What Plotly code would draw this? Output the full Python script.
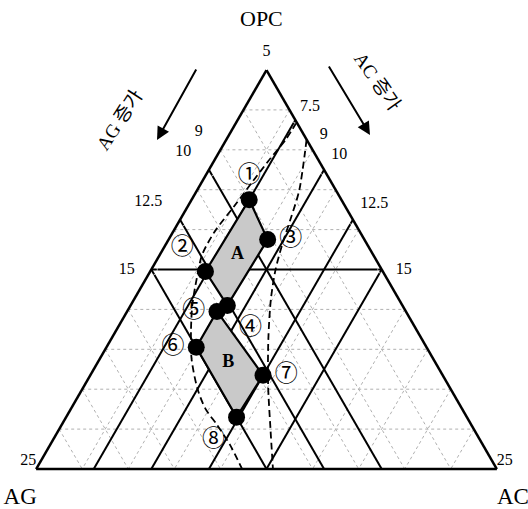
import plotly.graph_objects as go

# Trial mixes (percent of OPC / AG / AC)
point_ids = ["①", "②", "③", "④", "⑤", "⑥", "⑦", "⑧"]
opc = [67.5, 49.5, 57.5, 41.0, 39.5, 30.5, 23.5, 13.0]
ag = [20.0, 38.5, 21.0, 38.0, 41.0, 50.0, 39.0, 50.0]
ac = [12.5, 12.0, 21.5, 21.0, 19.5, 19.5, 37.5, 37.0]

# Corner points of the two zones, in order round the outline
zone_a = ["①", "③", "④", "②"]
zone_b = ["⑤", "⑦", "⑧", "⑥"]

# Edge scale 5-25 read along both sides
scale_lo, scale_hi = 5, 25
left_scale = [9, 10, 12.5, 15, 25]
right_scale = [7.5, 9, 10, 12.5, 15, 25]
apex_scale = 5

# Heavy guide lines (percent of each component)
guide_opc = [50]
guide_ag = [25, 37.5, 50]
guide_ac = [12.5, 25, 37.5, 50]
# Fine dotted grid
fine_grid = [10, 20, 30, 40, 50, 60, 70, 80, 90]

# Dashed boundary curves (OPC / AG / AC %)
curve1_opc = [86.9, 82.7, 77.2, 72.2, 66.1, 59.4, 53.7, 47.5, 41.3, 35.1, 27.6, 20.2, 15.2, 11.0, 6.1, 0.0]
curve1_ag = [0.0, 4.5, 11.0, 16.8, 23.9, 31.7, 37.2, 41.5, 45.5, 48.9, 52.4, 54.9, 55.7, 55.2, 54.9, 55.3]
curve1_ac = [13.1, 12.9, 11.8, 11.0, 10.1, 9.0, 9.2, 11.1, 13.3, 16.1, 19.9, 24.9, 29.1, 33.8, 39.0, 44.7]

curve2_opc = [82.6, 69.8, 63.1, 56.6, 49.9, 42.5, 32.6, 20.9, 10.3, 0.0]
curve2_ag = [0.0, 8.0, 13.1, 18.2, 23.1, 27.8, 33.3, 39.2, 44.0, 48.6]
curve2_ac = [17.4, 22.2, 23.8, 25.2, 27.0, 29.7, 34.1, 39.9, 45.7, 51.4]

# Text placement styles
point_label_side = ["top center", "top left", "middle right", "bottom right",
                    "middle left", "middle left", "middle right", "bottom left"]
left_label_side = ["top left", "top left", "top left", "middle left", "top left"]
left_label_gap = [14, 14, 14, 12, 0]          # invisible spacer marker sizes
left_label_pad = ["\u2002", "\u2002", "\u2002", "\u2002", ""]
right_label_side = ["top right", "top right", "top right", "top right", "middle right", "top right"]
right_label_gap = [6, 10, 10, 10, 8, 0]
right_label_pad = ["", "", "", "", "\u2002", ""]

SERIF = "Liberation Serif, Times New Roman, serif"
KOREAN = "Liberation Serif, Noto Sans CJK KR, sans-serif"
CLEAR = "rgba(0,0,0,0)"


def iso_lines(const_opc, const_ag, const_ac):
    """Segments of constant composition, edge to edge, joined with gaps."""
    A, B, C = [], [], []
    for v in const_opc:
        A += [v, v, None]; B += [100 - v, 0, None]; C += [0, 100 - v, None]
    for v in const_ag:
        A += [100 - v, 0, None]; B += [v, v, None]; C += [0, 100 - v, None]
    for v in const_ac:
        A += [100 - v, 0, None]; B += [0, 100 - v, None]; C += [v, v, None]
    return A, B, C


def to_pct(v):
    return (v - scale_lo) / (scale_hi - scale_lo) * 100


fig = go.Figure()

# fine dotted grid
ga, gb, gc = iso_lines(fine_grid, fine_grid, fine_grid)
fig.add_trace(go.Scatterternary(a=ga, b=gb, c=gc, mode="lines",
                                line=dict(color="#b0b0b0", width=1, dash="dot"),
                                hoverinfo="skip"))

# heavy guide lines
ha, hb, hc = iso_lines(guide_opc, guide_ag, guide_ac)
fig.add_trace(go.Scatterternary(a=ha, b=hb, c=hc, mode="lines",
                                line=dict(color="black", width=2),
                                hoverinfo="skip"))

# shaded zones A and B
idx = {p: i for i, p in enumerate(point_ids)}
for zone, name in ((zone_a, "A"), (zone_b, "B")):
    ids = zone + zone[:1]
    za = [opc[idx[p]] for p in ids]
    zb = [ag[idx[p]] for p in ids]
    zc = [ac[idx[p]] for p in ids]
    fig.add_trace(go.Scatterternary(a=za, b=zb, c=zc, mode="lines", fill="toself",
                                    fillcolor="#c9c9c9",
                                    line=dict(color="black", width=2.2),
                                    hoverinfo="skip"))
    n = len(zone)
    fig.add_trace(go.Scatterternary(
        a=[sum(za[:n]) / n], b=[sum(zb[:n]) / n], c=[sum(zc[:n]) / n],
        mode="text", text=[f"<b>{name}</b>"],
        textfont=dict(family=SERIF, size=18, color="black"),
        hoverinfo="skip"))

# dashed boundary curves
for ca, cb, cc in ((curve1_opc, curve1_ag, curve1_ac), (curve2_opc, curve2_ag, curve2_ac)):
    fig.add_trace(go.Scatterternary(a=ca, b=cb, c=cc, mode="lines",
                                    line=dict(color="black", width=1.8, dash="7px,4px",
                                              shape="spline", smoothing=0.8),
                                    hoverinfo="skip"))

# trial points with circled numbers
fig.add_trace(go.Scatterternary(a=opc, b=ag, c=ac, mode="markers+text",
                                marker=dict(color="black", size=17),
                                text=point_ids, textposition=point_label_side,
                                textfont=dict(family="Noto Sans CJK KR", size=23, color="black"),
                                cliponaxis=False, hoverinfo="skip"))

# edge scale values along the left (OPC-AG) and right (OPC-AC) sides
left_a = [100 - to_pct(v) for v in left_scale]
fig.add_trace(go.Scatterternary(a=left_a, b=[100 - a for a in left_a], c=[0] * len(left_a),
                                mode="markers+text",
                                marker=dict(size=left_label_gap, color=CLEAR),
                                text=[f"{v:g}{p}" for v, p in zip(left_scale, left_label_pad)],
                                textposition=left_label_side,
                                textfont=dict(family=SERIF, size=16, color="black"),
                                cliponaxis=False, hoverinfo="skip"))
right_c = [to_pct(v) for v in right_scale]
fig.add_trace(go.Scatterternary(a=[100 - c for c in right_c], b=[0] * len(right_c), c=right_c,
                                mode="markers+text",
                                marker=dict(size=right_label_gap, color=CLEAR),
                                text=[f"{p}{v:g}" for v, p in zip(right_scale, right_label_pad)],
                                textposition=right_label_side,
                                textfont=dict(family=SERIF, size=16, color="black"),
                                cliponaxis=False, hoverinfo="skip"))
fig.add_trace(go.Scatterternary(a=[100], b=[0], c=[0], mode="markers+text",
                                marker=dict(size=14, color=CLEAR),
                                text=[f"{apex_scale:g}"], textposition="top center",
                                textfont=dict(family=SERIF, size=16, color="black"),
                                cliponaxis=False, hoverinfo="skip"))

axis_common = dict(showgrid=False, showticklabels=False, linecolor="black", linewidth=2.5)

fig.update_layout(
    width=528, height=509,
    margin=dict(l=36, r=31, t=70, b=40),
    paper_bgcolor="white",
    showlegend=False,
    ternary=dict(
        sum=100,
        bgcolor="white",
        aaxis=dict(title=dict(text=""), ticks="", **axis_common),
        baxis=dict(title=dict(text="AG", font=dict(family=SERIF, size=23, color="black")),
                   tickmode="array", tickvals=[50],
                   ticks="outside", ticklen=13, tickcolor=CLEAR,
                   **axis_common),
        caxis=dict(title=dict(text="AC", font=dict(family=SERIF, size=23, color="black")),
                   ticks="", **axis_common),
    ),
    annotations=[
        dict(text="OPC", x=0.49, y=1.128, xref="paper", yref="paper",
             showarrow=False, xanchor="center", yanchor="middle",
             font=dict(family=SERIF, size=22, color="black")),
        dict(text="AG 증가", x=0.182, y=0.875, xref="paper", yref="paper",
             showarrow=False, textangle=-57, xanchor="center", yanchor="middle",
             font=dict(family=KOREAN, size=19, color="black")),
        dict(text="AC 증가", x=0.740, y=0.970, xref="paper", yref="paper",
             showarrow=False, textangle=55, xanchor="center", yanchor="middle",
             font=dict(family=KOREAN, size=19, color="black")),
        dict(text="", x=0.2625, y=0.8246, xref="paper", yref="paper",
             showarrow=True, ax=40, ay=-72, arrowhead=2, arrowsize=1.3,
             arrowwidth=2, arrowcolor="black", standoff=0),
        dict(text="", x=0.7245, y=0.8371, xref="paper", yref="paper",
             showarrow=True, ax=-42, ay=-70, arrowhead=2, arrowsize=1.3,
             arrowwidth=2, arrowcolor="black", standoff=0),
    ],
)

fig.write_html("out.html")
